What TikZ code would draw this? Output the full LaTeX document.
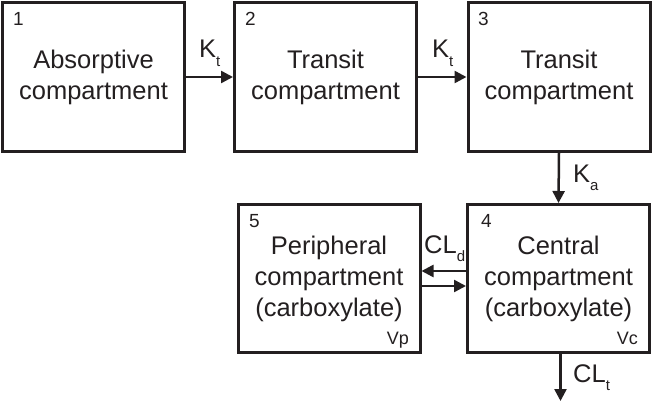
\documentclass[tikz,border=0pt]{standalone}
\usepackage{fontspec}
\setmainfont{Liberation Sans}
\usetikzlibrary{arrows.meta}
\definecolor{ink}{HTML}{231F20}
\newcommand{\sbs}[1]{\raisebox{-0.33em}{\fontsize{15}{15}\selectfont #1}}
\begin{document}
\begin{tikzpicture}[x=1pt,y=-1pt,
  comp/.style={draw=ink,line width=3pt,minimum width=182pt,minimum height=148pt,inner sep=0pt,
    align=center,text=ink,font=\fontsize{25.5}{31}\selectfont},
  num/.style={anchor=base west,inner sep=0pt,text=ink,font=\fontsize{19}{19}\selectfont},
  vol/.style={anchor=base east,inner sep=0pt,text=ink,font=\fontsize{18}{18}\selectfont},
  rate/.style={anchor=base west,inner sep=0pt,text=ink,font=\fontsize{25.5}{25.5}\selectfont},
  flow/.style={draw=ink,line width=2.5pt,-{Triangle[length=12pt,width=12pt]}}]
\useasboundingbox (0,0) rectangle (653,404);
\node[comp] (b1) at (93.5,77) {Absorptive\\compartment};
\node[comp] (b2) at (325.5,77) {Transit\\compartment};
\node[comp] (b3) at (559,77) {Transit\\compartment};
\node[comp] (b4) at (558.5,278.5) {Central\\compartment\\(carboxylate)};
\node[comp] (b5) at (329,278.5) {Peripheral\\compartment\\(carboxylate)};
\node[num] (n1) at (13,26) {1};
\node[num] (n2) at (245,26) {2};
\node[num] (n3) at (478,26) {3};
\node[num] (n4) at (481,227) {4};
\node[num] (n5) at (249,227) {5};
\node[vol] (vc) at (638,344) {Vc};
\node[vol] (vp) at (409,344) {Vp};
\draw[flow] (b1.east) -- (b2.west);
\draw[flow] (b2.east) -- (b3.west);
\draw[flow] (b3.south) -- (b4.north);
\draw[flow] ([yshift=7.5pt]b4.west) -- ([yshift=7.5pt]b5.east);
\draw[flow] ([yshift=-7.5pt]b5.east) -- ([yshift=-7.5pt]b4.west);
\coordinate (out) at ([xshift=2pt]b4.south |- 0,401);
\draw[flow] ([xshift=2pt]b4.south) -- (out);
\node[rate] (k1) at (199,58) {K\sbs{t}};
\node[rate] (k2) at (432,58) {K\sbs{t}};
\node[rate] (ka) at (573,182) {K\sbs{a}};
\node[rate] (cld) at (424,253) {CL\sbs{d}};
\node[rate] (clt) at (573,382) {CL\sbs{t}};
\end{tikzpicture}
\end{document}
